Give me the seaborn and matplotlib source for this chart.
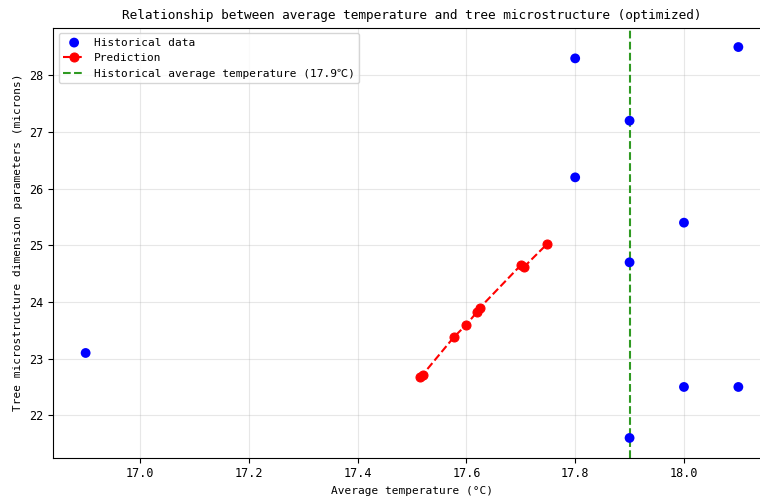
import numpy as np
import pandas as pd
import seaborn as sns
import matplotlib.pyplot as plt

# ======================= Data ===========================
hist_temp = [16.9, 17.8, 17.8, 17.9, 17.9, 17.9, 18.0, 18.0, 18.1, 18.1]
hist_size = [23.1, 28.3, 26.2, 27.2, 24.7, 21.6, 25.4, 22.5, 28.5, 22.5]

pred_temp = [17.515, 17.52, 17.577, 17.60, 17.62, 17.625, 17.70, 17.705, 17.748]
pred_size = [22.67, 22.72, 23.38, 23.60, 23.83, 23.90, 24.65, 24.61, 25.02]

avg_temp = 17.9

hist_df = pd.DataFrame({'temp': hist_temp, 'size': hist_size})
pred_df = pd.DataFrame({'temp': pred_temp, 'size': pred_size})

# ======================= Plot ===========================
plt.rcParams['font.family'] = ['DejaVu Sans Mono', 'Noto Sans CJK SC']
plt.rcParams['axes.unicode_minus'] = False

fig = plt.figure(figsize=(7.6, 4.99), dpi=100)
ax = fig.add_axes([53 / 760, 1 - 457.5 / 499, (771 - 53) / 760, (457.5 - 27.5) / 499])

sns.scatterplot(data=hist_df, x='temp', y='size', color='blue', s=50,
                edgecolor='none', label='Historical data', ax=ax, zorder=3)
sns.lineplot(data=pred_df, x='temp', y='size', color='red', linestyle='--',
             marker='o', markersize=6.5, markeredgecolor='red', sort=False,
             estimator=None, label='Prediction', ax=ax, zorder=3)
ax.axvline(avg_temp, color='#2f9a22', linestyle='--',
           label=f'Historical average temperature ({avg_temp}℃)')

ax.set_xlim(16.84, 18.16)
ax.set_ylim(21.255, 28.845)
ax.set_xticks([17.0, 17.2, 17.4, 17.6, 17.8, 18.0])
ax.grid(True, alpha=0.3)

ax.set_title('Relationship between average temperature and tree microstructure (optimized)',
             fontsize=9.2)
ax.set_xlabel('Average temperature (°C)', fontsize=8)
ax.set_ylabel('Tree microstructure dimension parameters (microns)', fontsize=8)
ax.tick_params(labelsize=8.5)
ax.legend(loc='upper left', fontsize=8)

plt.savefig('out.png', dpi=100)
